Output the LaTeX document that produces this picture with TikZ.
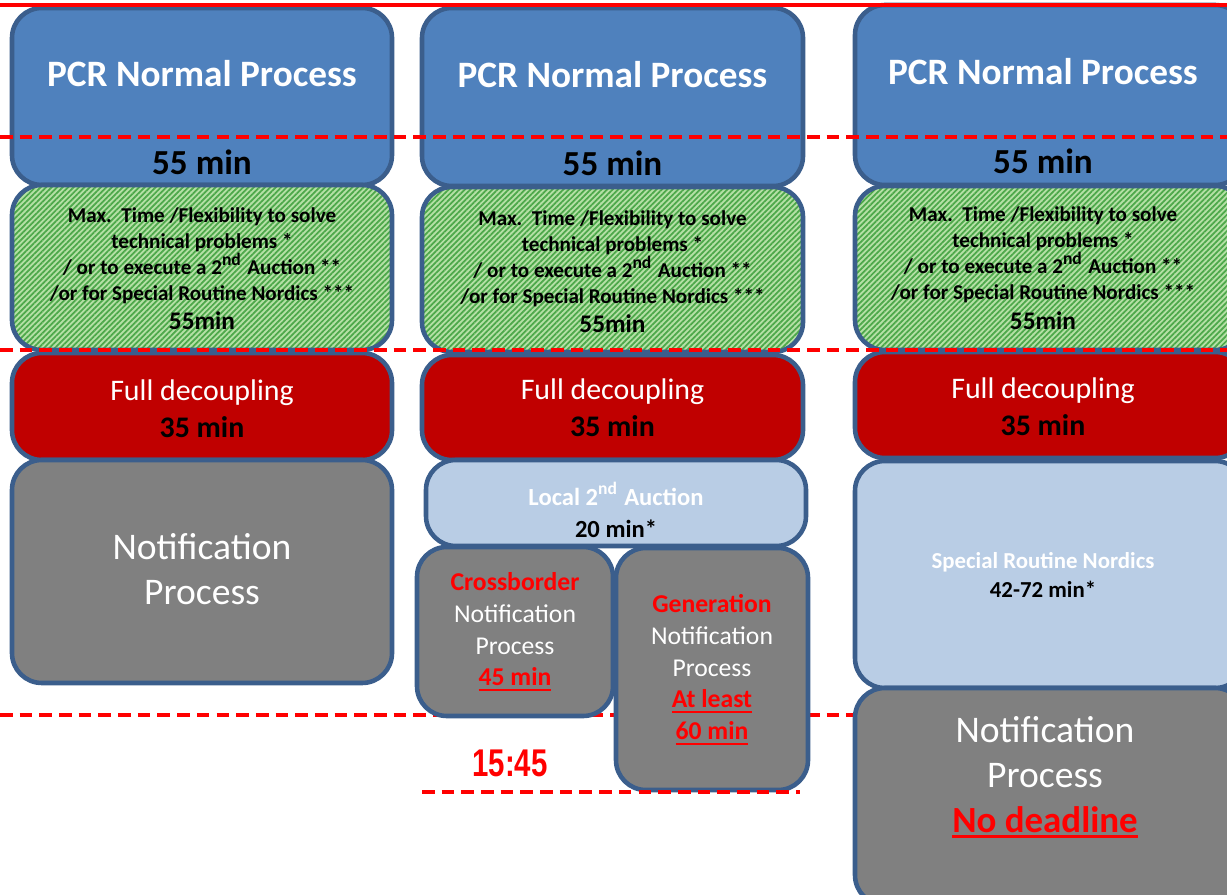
\documentclass[tikz,border=0pt]{standalone}
\usepackage{fontspec}
\setmainfont{Carlito}
\newfontfamily\narrowfont[FakeStretch=0.76]{Liberation Sans}
\usetikzlibrary{patterns.meta}
\definecolor{pcrblue}{HTML}{4F81BD}
\definecolor{boxline}{HTML}{3B5E8C}
\definecolor{decred}{HTML}{C00000}
\definecolor{notgray}{HTML}{808080}
\definecolor{auctblue}{HTML}{B9CDE5}
\definecolor{flexgreen}{HTML}{B5E0A6}
\definecolor{hatchgreen}{HTML}{4DA84A}
\definecolor{limred}{HTML}{FF0000}
\tikzset{
	box/.style={draw=boxline, line width=1.3pt, rounded corners=8.5pt, inner sep=0pt, outer sep=0pt},
	pcrbox/.style={box, fill=pcrblue},
	flexbox/.style={box, preaction={fill=flexgreen}, pattern={Lines[angle=45,distance=1.1pt,line width=0.5pt]}, pattern color=hatchgreen},
	decbox/.style={box, fill=decred},
	auctbox/.style={box, fill=auctblue},
	notbox/.style={box, fill=notgray},
	limit/.style={draw=limred, line width=1.1pt, dash pattern=on 3.6pt off 2pt},
	title/.style={text=white, font=\bfseries\fontsize{10.6}{12}\selectfont},
	mins/.style={font=\bfseries\fontsize{10}{12}\selectfont},
	flextext/.style={align=center, font=\bfseries\fontsize{6}{7.4}\selectfont},
	dectext/.style={align=center, text=white, font=\fontsize{8.5}{10.5}\selectfont},
	auctext/.style={align=center, text=white, font=\bfseries\fontsize{7}{9}\selectfont},
	nottext/.style={align=center, text=white, font=\fontsize{10.7}{12.8}\selectfont},
	smallnot/.style={align=center, text=white, font=\fontsize{7.3}{9}\selectfont},
}
\newcommand{\flexlines}{Max.\ \ Time /Flexibility to solve\\ technical problems *\\ / or to execute a 2\textsuperscript{nd} Auction **\\ /or for Special Routine Nordics ***\\[1pt] {\fontsize{7.2}{8.5}\selectfont 55min}}
\newcommand{\declines}{Full decoupling\\ {\color{black}\bfseries 35 min}}
\newcommand{\redul}[1]{\textcolor{limred}{\bfseries\setbox0\hbox{#1}\rlap{\rule[-1.6pt]{\wd0}{0.7pt}}\box0}}
\begin{document}
\begin{tikzpicture}
	\clip (0,0) rectangle (12.27,-8.95);
	\pgfmathsetmacro\CA{2.02}
	\pgfmathsetmacro\CB{6.125}
	\pgfmathsetmacro\CC{10.50}
	\coordinate (TopL) at (0,-0.05);
	\coordinate (TopR) at (12.27,-0.05);
	\coordinate (DashAL) at (0,-1.37);
	\coordinate (DashAR) at (12.27,-1.37);
	\coordinate (DashBL) at (0,-3.50);
	\coordinate (DashBR) at (12.27,-3.50);
	\coordinate (DashCL) at (0,-7.15);
	\coordinate (DashCR) at (12.27,-7.15);
	\coordinate (DashDL) at (4.22,-7.92);
	\coordinate (DashDR) at (8.00,-7.92);

	\draw[limit] (DashCL) -- (DashCR);

	\node[pcrbox, minimum width=3.80cm, minimum height=1.77cm] (PcrA) at (\CA,-0.965) {};
	\node[flexbox, minimum width=3.80cm, minimum height=1.65cm] (FlexA) at (\CA,-2.675) {};
	\node[decbox, minimum width=3.80cm, minimum height=1.07cm] (DecA) at (\CA,-4.065) {};
	\node[notbox, minimum width=3.80cm, minimum height=2.23cm] (NotA) at (\CA,-5.715) {};

	\node[pcrbox, minimum width=3.81cm, minimum height=1.78cm] (PcrB) at (\CB,-0.97) {};
	\node[flexbox, minimum width=3.81cm, minimum height=1.65cm] (FlexB) at (\CB,-2.695) {};
	\node[decbox, minimum width=3.81cm, minimum height=1.05cm] (DecB) at (\CB,-4.075) {};
	\node[auctbox, minimum width=3.80cm, minimum height=0.86cm] (AuctB) at (6.16,-5.03) {};
	\node[notbox, minimum width=1.96cm, minimum height=1.69cm] (CrossB) at (5.15,-6.315) {};
	\node[notbox, minimum width=1.92cm, minimum height=2.42cm] (GenB) at (7.12,-6.69) {};

	\node[pcrbox, minimum width=3.90cm, minimum height=1.80cm] (PcrC) at (\CC,-0.95) {};
	\node[flexbox, minimum width=3.90cm, minimum height=1.64cm] (FlexC) at (\CC,-2.68) {};
	\node[decbox, minimum width=3.90cm, minimum height=1.06cm] (DecC) at (\CC,-4.05) {};
	\node[auctbox, minimum width=3.90cm, minimum height=2.27cm] (AuctC) at (\CC,-5.745) {};
	\node[notbox, minimum width=3.90cm, minimum height=2.17cm] (NotC) at (\CC,-7.965) {};

	\draw[limred, line width=1.1pt] (TopL) -- (TopR);
	\draw[limit] (DashAL) -- (DashAR);
	\draw[limit] (DashBL) -- (DashBR);
	\draw[limit] (DashDL) -- (DashDR);

	\node[title] (TitleA) at (\CA,-0.74) {PCR Normal Process};
	\node[mins] (MinA) at (\CA,-1.62) {55 min};
	\node[flextext] (FlexTxtA) at (\CA,-2.685) {\flexlines};
	\node[dectext] (DecTxtA) at (\CA,-4.085) {\declines};
	\node[nottext] (NotTxtA) at (\CA,-5.695) {Notification\\ Process};

	\node[title] (TitleB) at (\CB,-0.75) {PCR Normal Process};
	\node[mins] (MinB) at (\CB,-1.63) {55 min};
	\node[flextext] (FlexTxtB) at (\CB,-2.715) {\flexlines};
	\node[dectext] (DecTxtB) at (\CB,-4.075) {\declines};
	\node[auctext] (AuctTxtB) at (6.16,-5.10) {Local 2\textsuperscript{nd} Auction\\ {\color{black}20 min*}};
	\node[smallnot] (CrossTxtB) at (5.15,-6.32) {{\color{limred}\bfseries Crossborder}\\ Notification\\ Process\\ \redul{45 min}};
	\node[smallnot] (GenTxtB) at (7.12,-6.70) {{\color{limred}\bfseries Generation}\\ Notification\\ Process\\ \redul{At least}\\ \redul{60 min}};
	\node[text=limred, font=\narrowfont\bfseries\fontsize{11}{12}\selectfont] (TimeB) at (5.10,-7.63) {15:45};

	\node[title] (TitleC) at (10.43,-0.72) {PCR Normal Process};
	\node[mins] (MinC) at (10.43,-1.61) {55 min};
	\node[flextext] (FlexTxtC) at (10.43,-2.68) {\flexlines};
	\node[dectext] (DecTxtC) at (10.43,-4.07) {\declines};
	\node[auctext, font=\bfseries\fontsize{6.5}{8}\selectfont] (AuctTxtC) at (10.43,-5.75) {Special Routine Nordics\\ {\color{black}42-72 min*}};
	\node[nottext] (NotTxtC) at (10.45,-7.77) {Notification\\ Process\\ {\fontsize{10.5}{12.8}\selectfont\redul{No deadline}}};
\end{tikzpicture}
\end{document}
